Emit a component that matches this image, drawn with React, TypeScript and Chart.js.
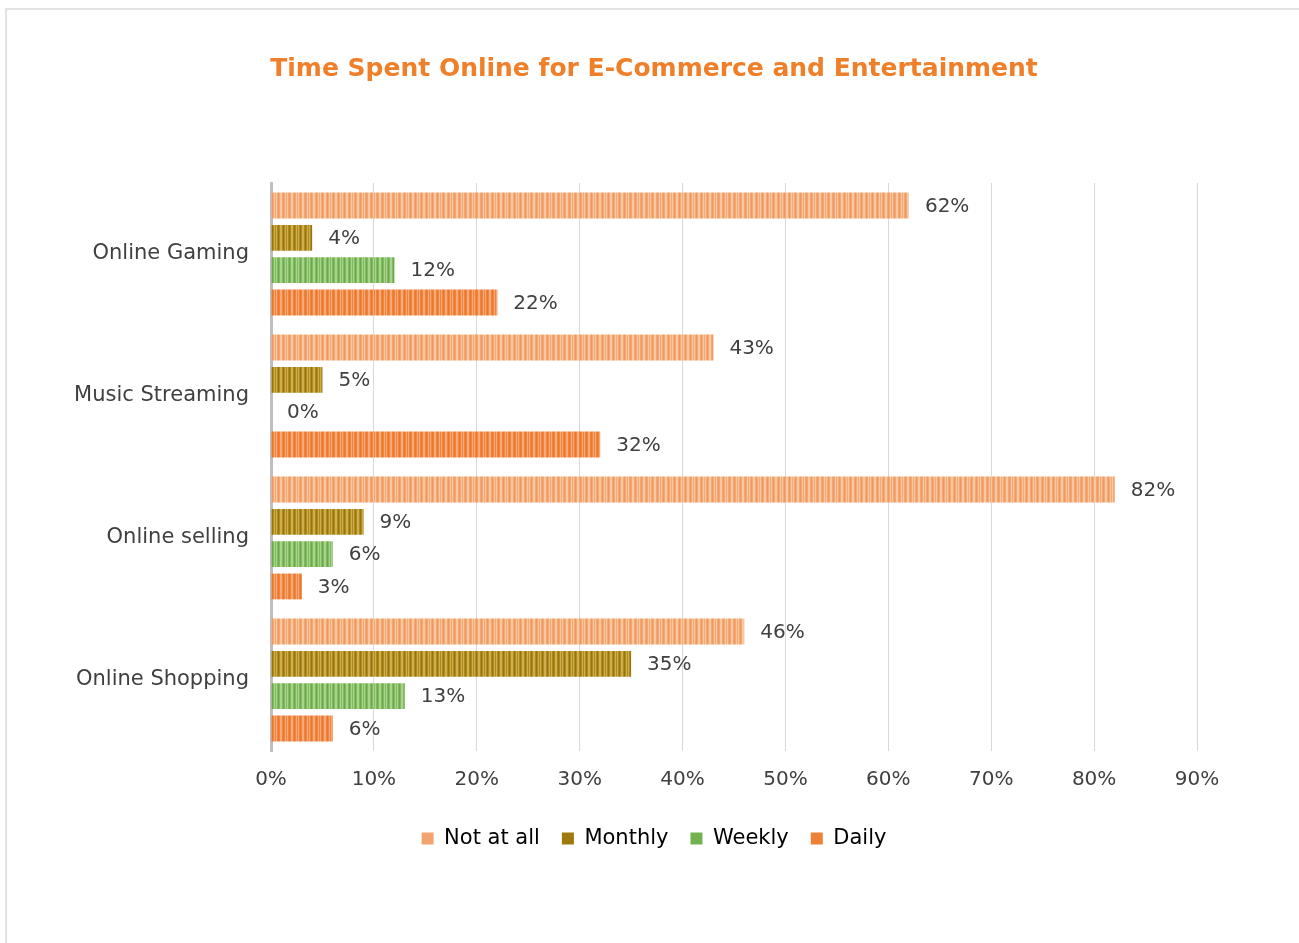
import React, { useEffect, useRef } from "react";
import { Chart, registerables } from "chart.js";

Chart.register(...registerables);

const categories = ["Online Gaming", "Music Streaming", "Online selling", "Online Shopping"];
const seriesNames = ["Not at all", "Monthly", "Weekly", "Daily"];
const notAtAll = [62, 43, 82, 46];
const monthly = [4, 5, 9, 35];
const weekly = [12, 0, 6, 13];
const daily = [22, 32, 3, 6];
const xTicks = [0, 10, 20, 30, 40, 50, 60, 70, 80, 90];

const palette = [
  { base: "#F4A873", light: "#F8C8A3", dark: "#F09860", solid: "#F3A46E" },
  { base: "#AE8A1A", light: "#CDAE55", dark: "#98760C", solid: "#9E7A0C" },
  { base: "#80BB5F", light: "#A9D38E", dark: "#6CAA49", solid: "#74B150" },
  { base: "#EF8540", light: "#F5AA78", dark: "#EA772A", solid: "#EE8136" },
];

const FONT = "'DejaVu Sans', sans-serif";

function makePattern(c: { base: string; light: string; dark: string }) {
  const cv = document.createElement("canvas");
  const seq = [c.base, c.light, c.base, c.dark, c.base, c.light, c.light, c.base, c.dark, c.base, c.light];
  cv.width = seq.length;
  cv.height = 4;
  const ctx = cv.getContext("2d")!;
  seq.forEach((col, i) => {
    ctx.fillStyle = col;
    ctx.fillRect(i, 0, 1, 4);
  });
  return ctx.createPattern(cv, "repeat")!;
}

const valueLabels = {
  id: "valueLabels",
  afterDatasetsDraw(chart: any) {
    const ctx = chart.ctx;
    ctx.save();
    ctx.font = `20px ${FONT}`;
    ctx.fillStyle = "#404040";
    ctx.textAlign = "left";
    ctx.textBaseline = "middle";
    chart.data.datasets.forEach((ds: any, di: number) => {
      const meta = chart.getDatasetMeta(di);
      meta.data.forEach((el: any, i: number) => {
        ctx.fillText(`${ds.data[i]}%`, el.x + 16, el.y + 1);
      });
    });
    ctx.restore();
  },
};

export default function App() {
  const ref = useRef<HTMLCanvasElement | null>(null);
  useEffect(() => {
    if (!ref.current) return;
    const seriesData = [notAtAll, monthly, weekly, daily];
    const chart = new Chart(ref.current, {
      type: "bar",
      data: {
        labels: categories,
        datasets: seriesNames.map((name, i) => ({
          label: name,
          data: seriesData[i],
          backgroundColor: makePattern(palette[i]) as any,
          borderColor: palette[i].solid,
          borderWidth: 0,
          categoryPercentage: 0.91,
          barPercentage: 0.8,
          yAxisID: "y",
        })),
      },
      options: {
        indexAxis: "y",
        animation: false,
        responsive: false,
        layout: { padding: { left: 9, right: 0, top: 0, bottom: 84 } },
        scales: {
          x: {
            min: 0,
            max: 90,
            afterBuildTicks: (scale: any) => {
              scale.ticks = xTicks.map((v) => ({ value: v }));
            },
            afterFit: (scale: any) => {
              scale.height = 55;
            },
            grid: { color: "#D9D9D9", lineWidth: 1, drawTicks: false },
            border: { display: false },
            ticks: {
              padding: 17,
              color: "#404040",
              font: { family: FONT, size: 20 },
              callback: (v: any) => `${v}%`,
            },
          },
          y: {
            position: "left",
            afterFit: (scale: any) => {
              scale.width = 262;
            },
            grid: { display: false, drawTicks: false },
            border: { display: true, color: "#BFBFBF", width: 3 },
            ticks: {
              padding: 22,
              color: "#404040",
              font: { family: FONT, size: 21 },
            },
          },
          yRight: {
            type: "category",
            position: "right",
            labels: categories,
            afterFit: (scale: any) => {
              scale.width = 102;
            },
            grid: { display: false, drawTicks: false },
            border: { display: false },
            ticks: { display: false },
          },
        },
        plugins: {
          title: {
            display: true,
            text: "Time Spent Online for E-Commerce and Entertainment",
            color: "#F07F2A",
            font: { family: FONT, size: 25, weight: "bold" },
            padding: { top: 54, bottom: 99 },
          },
          legend: {
            position: "bottom",
            labels: {
              boxWidth: 12,
              boxHeight: 12,
              padding: 22,
              color: "#404040",
              font: { family: FONT, size: 21 },
              generateLabels: () =>
                seriesNames.map((n, i) => ({
                  text: n,
                  fillStyle: palette[i].solid,
                  strokeStyle: palette[i].solid,
                  lineWidth: 0,
                  datasetIndex: i,
                  hidden: false,
                })) as any,
            },
          },
          tooltip: { enabled: false },
        },
      },
      plugins: [valueLabels],
    });
    return () => chart.destroy();
  }, []);

  return (
    <div style={{ position: "fixed", left: 0, top: 0, width: 1299, height: 943, overflow: "hidden", background: "#fff" }}>
      <div
        style={{
          position: "absolute",
          left: 5,
          top: 8,
          width: 1400,
          height: 1000,
          border: "2px solid #E3E3E3",
          boxSizing: "border-box",
        }}
      />
      <canvas ref={ref} width={1299} height={943} style={{ position: "absolute", left: 0, top: 0 }} />
    </div>
  );
}
